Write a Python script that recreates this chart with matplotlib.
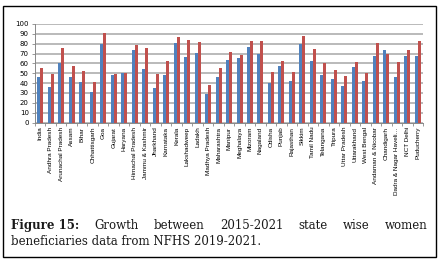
from matplotlib import pyplot as plt
from matplotlib.patches import Rectangle
import numpy as np

# states / UTs and the two NFHS rounds
states = ["India", "Andhra Pradesh", "Arunachal Pradesh", "Assam", "Bihar", "Chhattisgarh",
          "Goa", "Gujarat", "Haryana", "Himachal Pradesh", "Jammu & Kashmir", "Jharkhand",
          "Karnataka", "Kerala", "Lakshadweep", "Ladakh", "Madhya Pradesh", "Maharashtra",
          "Manipur", "Meghalaya", "Mizoram", "Nagaland", "Odisha", "Punjab", "Rajasthan",
          "Sikkim", "Tamil Nadu", "Telangana", "Tripura", "Uttar Pradesh", "Uttarakhand",
          "West Bengal", "Andaman & Nicobar", "Chandigarh", "Dadra & Nagar Haveli\u2026",
          "NCT Delhi", "Puducherry"]
nfhs_2015 = [46, 36, 60, 46, 41, 31, 80, 48, 50, 74, 54, 35, 48, 81, 66, 71, 29, 46,
             63, 65, 77, 70, 40, 57, 42, 80, 62, 48, 44, 37, 56, 42, 67, 74, 46, 67, 67]
nfhs_2021 = [55, 49, 76, 57, 52, 41, 91, 49, 50, 79, 76, 49, 62, 87, 84, 82, 38, 55,
             72, 68, 83, 83, 51, 62, 51, 88, 75, 60, 53, 47, 61, 50, 81, 70, 61, 74, 83]
y_ticks = list(range(0, 101, 10))

fig = plt.figure(figsize=(4.4, 2.63), dpi=100)
ax = fig.add_axes([0.0795, 0.534, 0.882, 0.375])

x = np.arange(len(states))
w = 0.286
ax.bar(x - w / 2, nfhs_2015, width=w, color="#4F81BD", zorder=3)
ax.bar(x + w / 2, nfhs_2021, width=w, color="#C0504D", zorder=3)

ax.set_xlim(-0.5, len(states) - 0.5)
ax.set_ylim(0, 100)
ax.set_yticks(y_ticks)
ax.yaxis.grid(True, color="#b4b4b4", lw=1.3, zorder=0)
ax.tick_params(axis="y", labelsize=5, length=2.5, width=0.6, color="#888888", pad=2)

ax.set_xticks(x)
ax.set_xticklabels(states, rotation=90, fontsize=4.6, family="Liberation Sans")
ax.set_xticks(np.arange(-0.5, len(states)), minor=True)
ax.tick_params(axis="x", which="major", length=0, pad=3)
ax.tick_params(axis="x", which="minor", length=2.5, width=0.6, color="#888888")

for s in ["top", "right"]:
    ax.spines[s].set_visible(False)
for s in ["left", "bottom"]:
    ax.spines[s].set_color("#888888")
    ax.spines[s].set_linewidth(0.7)

# outer frame
fig.patches.append(Rectangle((3 / 440, 1 - 257 / 263), 433 / 440, 251 / 263,
                             transform=fig.transFigure, fill=False, lw=1.0, ec="black"))

# caption: first line justified between x=11 and x=428 px
cap_font = dict(family="DejaVu Serif", fontsize=8.5, color="#1a1a1a", va="baseline")
y1 = 1 - 229 / 263
y2 = 1 - 245 / 263
line1 = ["Figure 15:", "Growth", "between", "2015-2021", "state", "wise", "women"]
left_px, right_px = 11, 428
texts = []
for i, wd in enumerate(line1):
    kw = dict(cap_font)
    if i == 0:
        kw["fontweight"] = "bold"
    texts.append(fig.text(0, y1, wd, **kw))
r = fig.canvas.get_renderer()
widths = [t.get_window_extent(r).width for t in texts]
gap = (right_px - left_px - sum(widths)) / (len(texts) - 1)
pos = left_px
for t, wdt in zip(texts, widths):
    t.set_x(pos / 440)
    pos += wdt + gap
fig.text(left_px / 440, y2, "beneficiaries data from NFHS 2019-2021.", **cap_font)

fig.savefig("out.png", dpi=100)
